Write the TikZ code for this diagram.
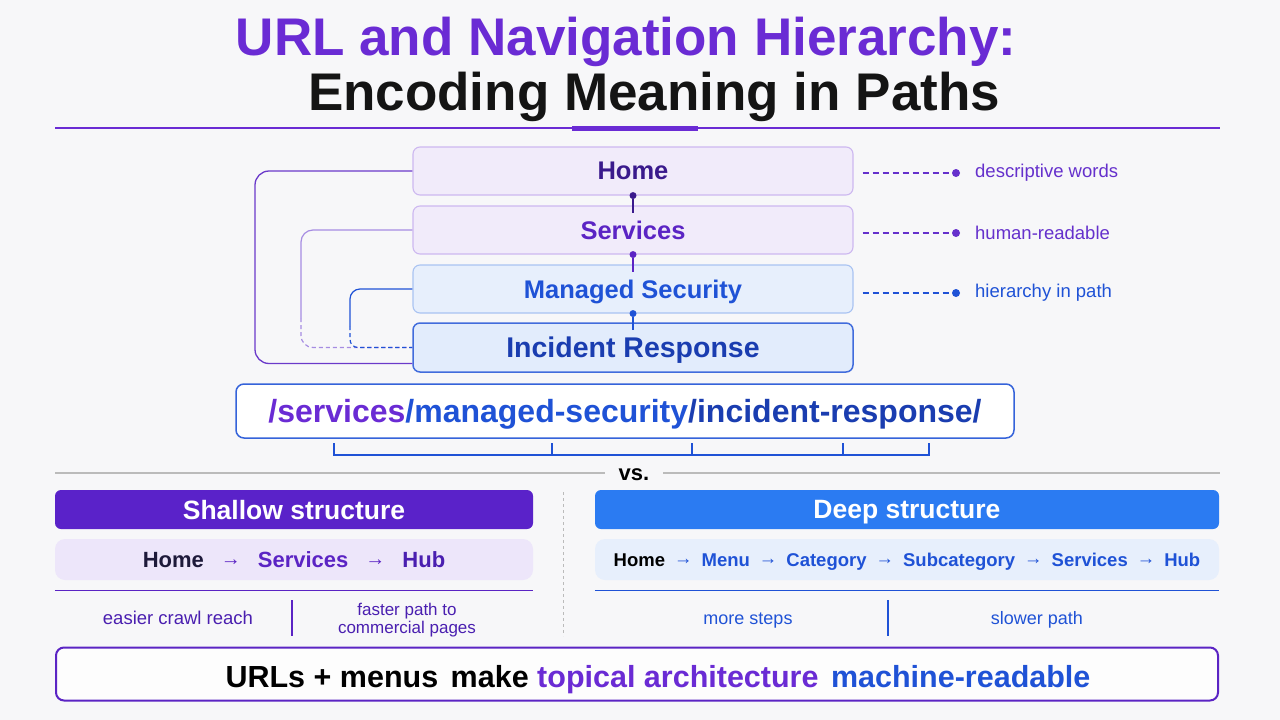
\documentclass[tikz,border=0pt]{standalone}
\usepackage{fontspec}
\setmainfont{Liberation Sans}
\usetikzlibrary{calc}
\definecolor{bg}{HTML}{F7F7F9}
\definecolor{titlep}{HTML}{6A2BD4}
\definecolor{dpurp}{HTML}{3A1A8C}
\definecolor{mpurp}{HTML}{5B24C4}
\definecolor{apurp}{HTML}{6530CC}
\definecolor{lpurp}{HTML}{A68CE2}
\definecolor{ublue}{HTML}{1F52D6}
\definecolor{dblue}{HTML}{1A3DB0}
\definecolor{hblue}{HTML}{2B7BF2}
\definecolor{shp}{HTML}{5A22C9}
\definecolor{pfill}{HTML}{F1EBFA}
\definecolor{sfill}{HTML}{EDE6FA}
\definecolor{pline}{HTML}{CDB8F0}
\definecolor{bfill}{HTML}{E7EFFC}
\definecolor{ifill}{HTML}{E2ECFC}
\definecolor{bline}{HTML}{A9C3F2}
\definecolor{ink}{HTML}{1E1A3A}
\definecolor{sep}{HTML}{BBBBBB}
\definecolor{hubp}{HTML}{4A1FB0}
\newcommand{\fsz}[1]{\fontsize{#1}{#1}\selectfont}
\newcommand{\sarr}{\raisebox{2pt}{\fsz{20}→}}
\newcommand{\darr}{\raisebox{1.5pt}{\fsz{18.5}→}}
\tikzset{
  stackbox/.style={draw, rounded corners=7, minimum width=440, minimum height=48, inner sep=0, line width=1.1, text depth=0pt, font=\bfseries\fsz{25.5}},
  dotn/.style={circle, inner sep=0, minimum size=7},
  adot/.style={circle, inner sep=0, minimum size=8},
  anno/.style={anchor=west, inner sep=0, font=\fsz{18.5}},
  hdr/.style={rounded corners=6, minimum width=478, minimum height=39, inner sep=0, text depth=0pt, text=white, font=\bfseries\fsz{26.5}},
  pathbox/.style={rounded corners=10, minimum height=41, inner sep=0, text depth=0pt},
  note/.style={inner sep=0, anchor=base, font=\fsz{18.5}},
  dline/.style={dash pattern=on 6pt off 4pt, line width=1.1},
}
\begin{document}
\begin{tikzpicture}[x=1pt,y=-1pt]
\useasboundingbox (0,0) rectangle (1280,720);
\fill[bg] (0,0) rectangle (1280,720);

% title
\node[anchor=base, inner sep=0, font=\bfseries\fsz{53}, text=titlep] (t1) at (626,55) {URL and Navigation Hierarchy:};
\node[anchor=base, inner sep=0, font=\bfseries\fsz{53}, text=black!92] (t2) at (654,110) {Encoding Meaning in Paths};
\draw[titlep, line width=1.3] (55,128) -- (1220,128);
\draw[titlep, line width=5] (572,128) -- (698,128);

% stack
\node[stackbox, fill=pfill, draw=pline, text=dpurp] (home) at (633,171) {Home};
\node[stackbox, fill=pfill, draw=pline, text=mpurp] (services) at (633,230) {Services};
\node[stackbox, fill=bfill, draw=bline, text=ublue] (managed) at (633,289) {Managed Security};
\node[stackbox, fill=ifill, draw=ublue!85, line width=1.5, minimum height=49, text=dblue, font=\bfseries\fsz{28.5}] (incident) at (633,347.5) {Incident Response};

\node[dotn, fill=dpurp] (d1) at (home.south) {};
\node[dotn, fill=mpurp] (d2) at (services.south) {};
\node[dotn, fill=ublue] (d3) at (managed.south) {};
\draw[dpurp, line width=1.6] (d1) -- ($(services.north)+(0,8)$);
\draw[mpurp, line width=1.6] (d2) -- ($(managed.north)+(0,8)$);
\draw[ublue, line width=1.6] (d3) -- ($(incident.north)+(0,8)$);

% left brackets
\coordinate (b1) at (255,171);
\coordinate (b2) at (301,318);
\coordinate (b3) at (350,326);
\draw[mpurp!90, line width=1.3, rounded corners=14] (home.west) -- (b1) |- ($(incident.west)+(0,16)$);
\draw[lpurp, line width=1.2, rounded corners=12] (services.west) -| (b2);
\draw[lpurp, line width=1.2, dash pattern=on 4pt off 3pt, rounded corners=12] (b2) |- (incident.west);
\draw[ublue, line width=1.2, rounded corners=10] (managed.west) -| (b3);
\draw[ublue, line width=1.2, dash pattern=on 4pt off 3pt, rounded corners=8] (b3) |- ($(incident.west)+(-40,0)$) -- (incident.west);

% right annotations
\node[adot, fill=apurp] (e1) at (956,173) {};
\node[adot, fill=apurp] (e2) at (956,233) {};
\node[adot, fill=ublue] (e3) at (956,293) {};
\draw[apurp, dline] ($(home.east)+(9,2)$) -- (e1);
\draw[apurp, dline] ($(services.east)+(9,3)$) -- (e2);
\draw[ublue, dline] ($(managed.east)+(9,4)$) -- (e3);
\node[anno, text=apurp] (a1) at (975,173) {descriptive words};
\node[anno, text=apurp] (a2) at (975,233) {human-readable};
\node[anno, text=ublue] (a3) at (975,293) {hierarchy in path};

% URL
\node[draw=ublue!90, fill=white, line width=1.5, rounded corners=8, minimum width=778, minimum height=54, inner sep=0, text depth=0pt, font=\bfseries\fsz{32}] (url) at (625,411)
  {{\color{titlep}/services}{\color{ublue}/managed-security}{\color{dblue}/incident-response/}};
\draw[ublue, line width=1.3] (334,443) |- (929,455) -- (929,443);
\draw[ublue, line width=1.3] (552,443) -- (552,455);
\draw[ublue, line width=1.3] (692,443) -- (692,455);
\draw[ublue, line width=1.3] (843,443) -- (843,455);

% vs
\node[inner sep=0, font=\bfseries\fsz{22}] (vs) at (634,475) {vs.};
\draw[sep, line width=1.3] (55,473) -- ($(vs.west)+(-14,-2)$);
\draw[sep, line width=1.3] ($(vs.east)+(14,-2)$) -- (1220,473);
\draw[sep, line width=1, dash pattern=on 3pt off 3pt] (563,492) -- (563,636);

% shallow
\node[hdr, fill=shp] (shh) at (294,509.5) {Shallow structure};
\node[pathbox, fill=sfill, minimum width=478, font=\bfseries\fsz{22}] (shp) at (294,559.5)
  {{\color{ink}Home}\hspace{17pt}{\color{mpurp}\sarr}\hspace{17pt}{\color{mpurp}Services}\hspace{17pt}{\color{mpurp}\sarr}\hspace{17pt}{\color{hubp}Hub}};
\draw[mpurp, line width=1.2] ($(shp.south west)+(0,10)$) -- ($(shp.south east)+(0,10)$);
\draw[mpurp, line width=1.2] (292,600) -- (292,636);
\node[note, text=hubp] (n1) at (178,624) {easier crawl reach};
\node[note, text=hubp, font=\fsz{17}] (n2) at (407,615) {faster path to};
\node[note, text=hubp, font=\fsz{17}] (n3) at (407,633) {commercial pages};

% deep
\node[hdr, fill=hblue, minimum width=624] (dph) at (907,509.5) {Deep structure};
\node[pathbox, fill=bfill, minimum width=624, font=\bfseries\fsz{18.5}] (dpp) at (907,559.5)
  {{\color{black}Home}\hspace{9pt}{\color{ublue}\darr}\hspace{9pt}{\color{ublue}Menu}\hspace{9pt}{\color{ublue}\darr}\hspace{9pt}{\color{ublue}Category}\hspace{9pt}{\color{ublue}\darr}\hspace{9pt}{\color{ublue}Subcategory}\hspace{9pt}{\color{ublue}\darr}\hspace{9pt}{\color{ublue}Services}\hspace{9pt}{\color{ublue}\darr}\hspace{9pt}{\color{ublue}Hub}};
\draw[ublue, line width=1.2] ($(dpp.south west)+(0,10)$) -- ($(dpp.south east)+(0,10)$);
\draw[ublue, line width=1.2] (888,600) -- (888,636);
\node[note, text=ublue, font=\fsz{18}] (n4) at (748,624) {more steps};
\node[note, text=ublue, font=\fsz{18}] (n5) at (1037,624) {slower path};

% bottom
\node[draw=mpurp, fill=white!70!bg, line width=2, rounded corners=8, minimum width=1162, minimum height=53, inner sep=0] (bot) at (637,674) {};
\node[anchor=base, inner sep=0, font=\bfseries\fsz{30.5}] (bottxt) at (658,687)
  {{\color{black}URLs + menus\hspace{4pt} make} {\color{titlep}topical architecture}\hspace{4pt} {\color{ublue}machine-readable}};
\end{tikzpicture}
\end{document}
